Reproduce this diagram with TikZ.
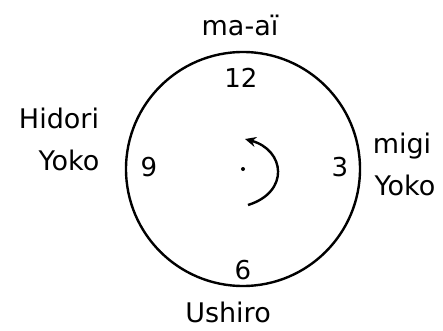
\documentclass[tikz,border=0pt]{standalone}
\usepackage{fontspec}
\setmainfont{DejaVu Sans}
\usetikzlibrary{arrows.meta}
\begin{document}
\begin{tikzpicture}[x=1pt,y=1pt,
  lbl/.style={font=\fontsize{27}{30}\selectfont, inner sep=0pt, align=center},
  num/.style={font=\fontsize{26}{30}\selectfont, inner sep=0pt},
  line width=2.4pt]
\useasboundingbox (0,0) rectangle (443,330);
\node[draw, circle, minimum size=234pt, inner sep=0pt, line width=2.4pt] (c) at (243,161) {};
\fill (243,161) circle (2pt);
\node[num] (n12) at (241,252) {12};
\node[num] (n9) at (149,163) {9};
\node[num] (n3) at (340,163) {3};
\node[num] (n6) at (243,60) {6};
\node[lbl] (top) at (240,305) {ma-aï};
\node[lbl] (left1) at (59,212) {Hidori};
\node[lbl] (left2) at (69,170) {Yoko};
\node[lbl] (right1) at (402,184) {migi};
\node[lbl] (right2) at (405,145) {Yoko};
\node[lbl] (bot) at (228,18) {Ushiro};
\coordinate (as) at (248,125);
\coordinate (ae) at (245,191);
\draw[-{Stealth[length=11pt,width=10pt]}] (as) .. controls (290,138) and (285,180) .. (ae);
\end{tikzpicture}
\end{document}
